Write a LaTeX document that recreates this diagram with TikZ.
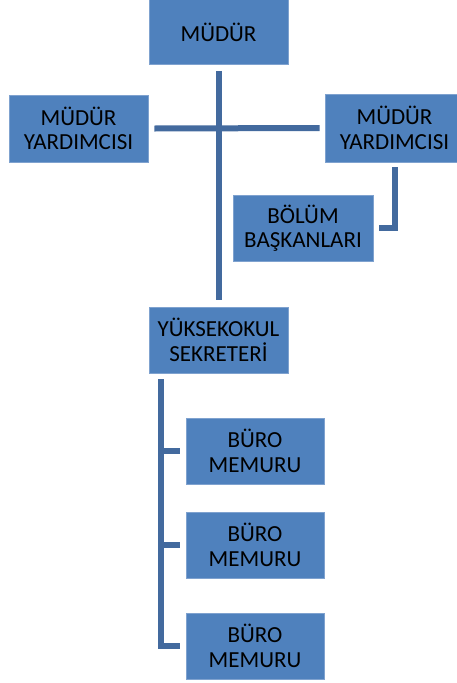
\documentclass[tikz,border=0pt]{standalone}
\usepackage{fontspec}
\setmainfont{Carlito}
\usetikzlibrary{calc}
\definecolor{boxblue}{HTML}{4F81BD}
\definecolor{boxedge}{HTML}{7FA2CF}
\definecolor{linkblue}{HTML}{436A9E}
\begin{document}
\begin{tikzpicture}[x=1pt,y=-1pt,
  box/.style={fill=boxblue, draw=boxedge, line width=0.6pt, minimum width=139pt, minimum height=66pt,
    inner sep=0pt, align=center, text=black, font=\fontsize{23}{24.5}\selectfont},
  link/.style={draw=linkblue, line width=6pt}]
\useasboundingbox (0,0) rectangle (456,683);
\node[box, minimum height=65pt] (mudur) at (218.5,32) {MÜDÜR};
\node[box, minimum height=67pt] (myl) at (78.5,128.5) {MÜDÜR\\YARDIMCISI};
\node[box, minimum height=68pt] (myr) at (394.5,128) {MÜDÜR\\YARDIMCISI};
\node[box, minimum width=140pt] (bolum) at (303,228) {BÖLÜM\\BAŞKANLARI};
\node[box] (yuk) at (218.5,340) {YÜKSEKOKUL\\SEKRETERİ};
\node[box, minimum width=138pt] (buro1) at (255,451) {BÜRO\\MEMURU};
\node[box, minimum width=138pt] (buro2) at (255,545) {BÜRO\\MEMURU};
\node[box, minimum width=138pt] (buro3) at (255,646) {BÜRO\\MEMURU};
% connectors
\draw[link] ($(mudur.south)+(0,6)$) -- ($(yuk.north)+(0,-7)$);
\draw[link] ($(myl.east)+(6,0)$) -- ($(myr.west)+(-5,0)$);
\draw[link] ($(myr.south)+(0.5,5)$) |- ($(bolum.east)+(6,0)$);
\coordinate (spine) at ($(yuk.south west)+(12,6)$);
\draw[link] (spine) |- ($(buro3.west)+(-6,0)$);
\draw[link] ($(buro1.west)+(-6,0)$) -- (buro1.west -| spine);
\draw[link] ($(buro2.west)+(-6,0)$) -- (buro2.west -| spine);
\end{tikzpicture}
\end{document}
